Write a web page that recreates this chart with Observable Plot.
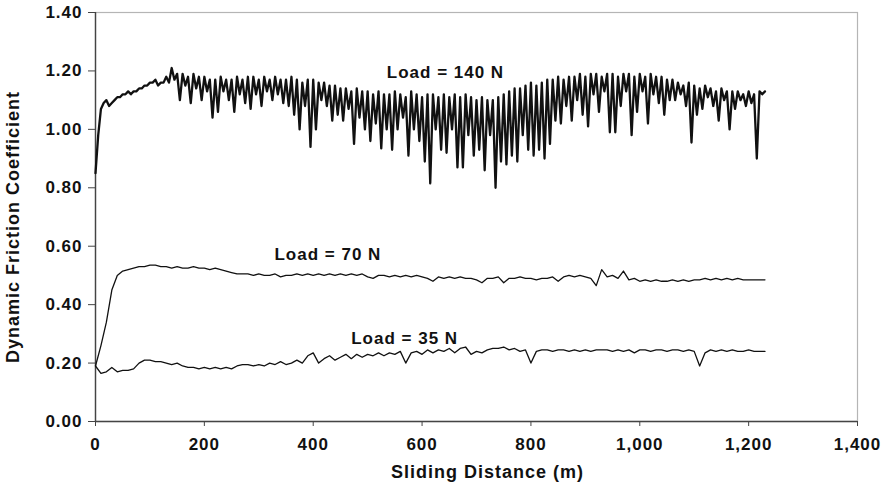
<!DOCTYPE html>
<html><head><meta charset="utf-8">
<script src="https://cdn.jsdelivr.net/npm/d3@7"></script>
<script src="https://cdn.jsdelivr.net/npm/@observablehq/plot@0.6"></script>
<style>body{margin:0;background:#fff}</style>
</head><body><div id="chart"></div>
<script>
// Sliding distance sampled every 10 m (0..1230); 140 N low points at the 5 m offsets
const sampleStep = 10;

// Load = 140 N : upper trace (x = 0,10,...,1230)
const load140High = [
 0.85,1.07,1.10,1.09,1.11,1.12,1.13,1.13,1.14,1.15,
 1.16,1.17,1.16,1.18,1.21,1.19,1.19,1.18,1.19,1.18,
 1.18,1.17,1.17,1.18,1.17,1.17,1.18,1.17,1.18,1.18,
 1.17,1.18,1.17,1.18,1.17,1.17,1.18,1.17,1.16,1.17,
 1.17,1.16,1.16,1.15,1.15,1.14,1.14,1.13,1.14,1.13,
 1.13,1.12,1.13,1.12,1.12,1.13,1.12,1.11,1.13,1.12,
 1.11,1.12,1.12,1.11,1.12,1.11,1.12,1.11,1.12,1.11,
 1.10,1.11,1.10,1.10,1.11,1.12,1.13,1.14,1.14,1.15,
 1.16,1.15,1.16,1.17,1.17,1.18,1.17,1.18,1.18,1.19,
 1.18,1.19,1.19,1.18,1.19,1.19,1.18,1.19,1.19,1.18,
 1.19,1.18,1.19,1.18,1.18,1.17,1.17,1.16,1.15,1.16,
 1.15,1.14,1.15,1.14,1.13,1.14,1.13,1.13,1.13,1.12,
 1.13,1.12,1.13,1.13
];
// Load = 140 N : downward spikes (x = 5,15,...,1225)
const load140Low = [
 0.98,1.09,1.08,1.10,1.11,1.12,1.12,1.13,1.14,1.15,
 1.16,1.15,1.16,1.16,1.17,1.10,1.15,1.09,1.14,1.10,
 1.13,1.04,1.06,1.13,1.10,1.06,1.12,1.09,1.07,1.12,
 1.08,1.13,1.10,1.12,1.09,1.08,1.05,1.00,1.08,0.94,
 1.00,1.10,1.08,1.03,1.05,1.03,1.07,0.95,1.04,1.00,
 0.96,1.02,0.935,1.00,0.93,1.00,1.04,0.91,1.00,0.96,
 0.89,0.815,1.00,0.93,0.92,1.00,0.87,0.87,0.98,0.91,
 0.93,0.86,0.98,0.80,0.89,0.88,0.91,0.89,0.98,0.93,
 0.91,0.93,0.90,0.95,1.03,1.02,1.08,1.03,1.10,1.05,
 1.01,1.12,1.06,1.13,0.99,0.99,1.08,1.13,0.98,1.06,
 1.13,1.02,1.12,1.09,1.05,1.10,1.10,1.12,1.08,0.955,
 1.05,1.07,1.11,1.08,1.03,1.10,1.00,1.07,1.10,1.08,
 1.09,0.90,1.12
];
// Load = 70 N (x = 0,10,...,1230)
const load70 = [
 0.19,0.26,0.34,0.45,0.50,0.515,0.52,0.525,0.53,0.53,
 0.535,0.535,0.53,0.53,0.525,0.53,0.525,0.525,0.53,0.525,
 0.525,0.52,0.525,0.52,0.515,0.51,0.505,0.505,0.505,0.50,
 0.505,0.50,0.50,0.505,0.495,0.50,0.50,0.505,0.50,0.505,
 0.50,0.505,0.50,0.505,0.50,0.505,0.50,0.505,0.50,0.505,
 0.495,0.49,0.50,0.50,0.495,0.50,0.495,0.50,0.495,0.50,
 0.495,0.49,0.48,0.495,0.49,0.495,0.49,0.495,0.49,0.49,
 0.485,0.475,0.49,0.49,0.495,0.475,0.49,0.49,0.495,0.49,
 0.49,0.485,0.49,0.49,0.495,0.48,0.495,0.50,0.495,0.50,
 0.495,0.49,0.465,0.52,0.495,0.50,0.49,0.515,0.485,0.49,
 0.48,0.485,0.48,0.485,0.48,0.48,0.485,0.48,0.485,0.48,
 0.485,0.485,0.49,0.485,0.49,0.485,0.49,0.485,0.49,0.485,
 0.485,0.485,0.485,0.485
];
// Load = 35 N (x = 0,10,...,1230)
const load35 = [
 0.19,0.165,0.17,0.185,0.17,0.175,0.175,0.18,0.20,0.21,
 0.21,0.205,0.205,0.20,0.195,0.20,0.19,0.185,0.185,0.18,
 0.185,0.18,0.185,0.18,0.185,0.18,0.19,0.195,0.195,0.19,
 0.195,0.19,0.20,0.195,0.205,0.195,0.20,0.21,0.20,0.225,
 0.235,0.20,0.215,0.225,0.21,0.22,0.23,0.215,0.23,0.22,
 0.23,0.225,0.235,0.225,0.235,0.23,0.24,0.20,0.235,0.24,
 0.23,0.245,0.235,0.245,0.24,0.25,0.235,0.25,0.255,0.23,
 0.24,0.235,0.245,0.25,0.25,0.255,0.245,0.25,0.24,0.245,
 0.20,0.24,0.245,0.245,0.24,0.245,0.245,0.24,0.245,0.24,
 0.245,0.24,0.245,0.245,0.245,0.24,0.245,0.24,0.245,0.235,
 0.245,0.245,0.24,0.245,0.245,0.24,0.245,0.245,0.24,0.245,
 0.24,0.19,0.235,0.245,0.24,0.245,0.24,0.245,0.24,0.24,
 0.245,0.24,0.24,0.24
];

const xTicks = [0, 200, 400, 600, 800, 1000, 1200, 1400];
const yTicks = [0, 0.2, 0.4, 0.6, 0.8, 1.0, 1.2, 1.4];
const labelTexts = ["Load = 140 N", "Load = 70 N", "Load = 35 N"];
const labelX = [643, 427, 568];
const labelY = [1.193, 0.572, 0.2825];
const xTitle = "Sliding Distance (m)";
const yTitle = "Dynamic Friction Coefficient";

// Build tables
const series140 = [];
load140High.forEach((v, i) => {
  series140.push({d: i * sampleStep, f: v});
  if (i < load140Low.length) series140.push({d: i * sampleStep + sampleStep / 2, f: load140Low[i]});
});
const series70 = load70.map((v, i) => ({d: i * sampleStep, f: v}));
const series35 = load35.map((v, i) => ({d: i * sampleStep, f: v}));
const labels = labelTexts.map((t, i) => ({t, x: labelX[i], y: labelY[i]}));

const font = "'Liberation Sans', Arial, Helvetica, sans-serif";
const chart = Plot.plot({
  width: 888, height: 490,
  marginLeft: 95, marginRight: 31, marginTop: 12, marginBottom: 69,
  style: {fontFamily: font, letterSpacing: "1px", color: "#000", background: "#fff", overflow: "visible"},
  x: {domain: [0, 1400]},
  y: {domain: [0, 1.4]},
  marks: [
    Plot.frame({stroke: "#b5b5b5", strokeWidth: 1.2}),
    Plot.axisY({ticks: yTicks, tickFormat: d3.format(".2f"), tickSize: 7, tickPadding: 6,
      fontSize: 17, fontWeight: "bold", label: null, stroke: "#444", fill: "#111"}),
    Plot.axisX({ticks: xTicks, tickFormat: d3.format(","), tickSize: 5, tickPadding: 11,
      fontSize: 17, fontWeight: "bold", label: null, stroke: "#444", fill: "#111"}),
    Plot.ruleX([0], {stroke: "#444", strokeWidth: 1.4}),
    Plot.ruleY([0], {stroke: "#444", strokeWidth: 1.4}),
    Plot.lineY(series140, {x: "d", y: "f", stroke: "#111", strokeWidth: 2.3, strokeLinejoin: "round"}),
    Plot.lineY(series70, {x: "d", y: "f", stroke: "#111", strokeWidth: 1.3}),
    Plot.lineY(series35, {x: "d", y: "f", stroke: "#111", strokeWidth: 1.3}),
    Plot.text(labels, {x: "x", y: "y", text: "t", fontSize: 17, fontWeight: "bold", fill: "#111"}),
    Plot.text([xTitle], {frameAnchor: "bottom", dx: 11, dy: 56, fontSize: 18, fontWeight: "bold", fill: "#111"}),
    Plot.text([yTitle], {frameAnchor: "left", textAnchor: "middle", rotate: -90, dx: -82, dy: 10, fontSize: 18, fontWeight: "bold", fill: "#111"})
  ]
});
document.getElementById("chart").append(chart);
</script>
</body></html>
